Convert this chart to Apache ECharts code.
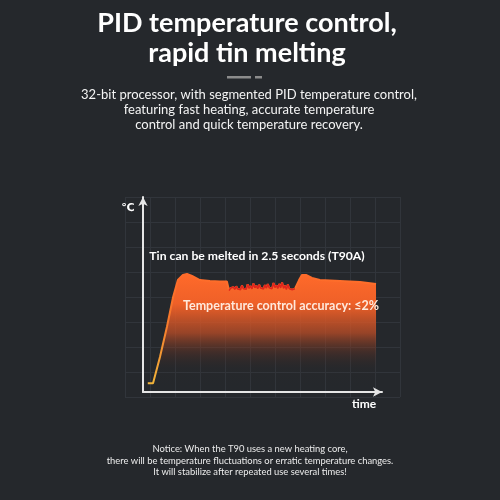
<!DOCTYPE html>
<html>
<head>
<meta charset="utf-8">
<script src="https://cdn.jsdelivr.net/npm/echarts@6/dist/echarts.min.js"></script>
<style>
html,body{margin:0;padding:0;background:#25282c;}
#c{width:500px;height:500px;}
</style>
</head>
<body>
<div id="c"></div>
<script>
// ---- data (time units 0..100, temperature units 0..100) ----
var riseTime = [2, 4.2, 7.1, 10, 12.6, 14.6, 16.7, 18.4, 20.5, 23.8, 28, 32.2, 35.1];
var riseTemp = [4.5, 4.5, 17.9, 33.3, 48.7, 57.4, 60, 60.5, 59.5, 57.4, 56.9, 56.7, 56.7];
var noiseTime = [36.0,36.6,37.2,37.8,38.4,39.0,39.6,40.2,40.8,41.4,42.0,42.6,43.2,43.8,44.4,45.0,45.6,46.2,46.8,47.4,48.0,48.6,49.2,49.8,50.4,51.0,51.6,52.2,52.8,53.4,54.0,54.6,55.2,55.8,56.4,57.0,57.6,58.2,58.8,59.4,60.0,60.6,61.2,61.8,62.4,63.0,63.6];
var noiseTemp = [52.0,53.2,52.4,53.8,52.6,54.2,52.8,53.6,52.5,54.6,53.0,54.0,52.7,55.2,53.1,54.3,52.9,55.6,53.4,54.5,53.0,55.0,53.3,54.1,52.8,54.8,53.2,55.3,53.5,54.4,53.0,55.9,53.6,54.7,53.1,55.4,53.4,56.2,53.2,54.6,52.6,55.1,52.9,53.9,52.5,53.5,53.0];
var recoverTime = [65.3, 66.5, 68.2, 70.7, 74, 82.4, 90.8, 97.5];
var recoverTemp = [57.4, 60, 60, 58.5, 57.4, 56.9, 56.4, 55.4];

var titleLines = ['PID temperature control,', 'rapid tin melting'];
var subtitleLines = ['32-bit processor, with segmented PID temperature control,', 'featuring fast heating, accurate temperature', 'control and quick temperature recovery.'];
var noticeLines = ['Notice: When the T90 uses a new heating core,', 'there will be temperature fluctuations or erratic temperature changes.', 'It will stabilize after repeated use several times!'];
var note1 = 'Tin can be melted in 2.5 seconds (T90A)';
var note2 = 'Temperature control accuracy: \u22642%';
var yName = '\u2103';
var xName = 'time';

function zip(a, b) { return a.map(function (v, i) { return [v, b[i]]; }); }
var curve = zip(riseTime, riseTemp).concat(zip(noiseTime, noiseTemp)).concat(zip(recoverTime, recoverTemp));
var noise = zip(noiseTime, noiseTemp);

var chart = echarts.init(document.getElementById('c'));
var graphics = [];
function addText(t, x, y, font, fill) {
  graphics.push({type: 'text', x: x, y: y, z: 10, style: {text: t, font: font, fill: fill, textAlign: 'center', textVerticalAlign: 'middle'}});
}
titleLines.forEach(function (t, i) { addText(t, 247, 23 + i * 30, 'bold 27px Lato', '#ffffff'); });
subtitleLines.forEach(function (t, i) { addText(t, 249, 95 + i * 15, '13px Lato', '#f4f4f4'); });
noticeLines.forEach(function (t, i) { addText(t, 250, 449 + i * 11.5, '9.4px Lato', '#ececec'); });
addText(note1, 257, 256, 'bold 12.2px Lato', '#ffffff');
addText(note2, 281, 306, 'bold 12.5px Lato', '#ffe9dc');
addText(yName, 128, 208, 'bold 11px "DejaVu Sans"', '#ffffff');
addText(xName, 364, 404, 'bold 12px Lato', '#ffffff');
graphics.push({type: 'rect', shape: {x: 227, y: 76, width: 24, height: 2.5}, style: {fill: '#8c8c8c'}});
graphics.push({type: 'rect', shape: {x: 255, y: 76, width: 7, height: 2.5}, style: {fill: '#8c8c8c'}});

var option = {
  backgroundColor: '#25282c',
  animation: false,
  graphic: graphics,
  grid: [
    {left: 143, top: 197, width: 239, height: 195},
    {left: 125, top: 197, width: 275, height: 200}
  ],
  xAxis: [
    {type: 'value', gridIndex: 0, min: 0, max: 100,
      axisLine: {show: true, symbol: ['none', 'arrow'], symbolSize: [7, 9], lineStyle: {color: '#e6e6e6', width: 2}},
      axisTick: {show: false}, axisLabel: {show: false}, splitLine: {show: false}},
    {type: 'value', gridIndex: 1, min: 0, max: 11, interval: 1,
      axisLine: {show: false}, axisTick: {show: false}, axisLabel: {show: false},
      splitLine: {show: true, lineStyle: {color: '#31353b', width: 1}}}
  ],
  yAxis: [
    {type: 'value', gridIndex: 0, min: 0, max: 100,
      axisLine: {show: true, symbol: ['none', 'arrow'], symbolSize: [7, 9], lineStyle: {color: '#e6e6e6', width: 2}},
      axisTick: {show: false}, axisLabel: {show: false}, splitLine: {show: false}},
    {type: 'value', gridIndex: 1, min: 0, max: 8, interval: 1,
      axisLine: {show: false}, axisTick: {show: false}, axisLabel: {show: false},
      splitLine: {show: true, lineStyle: {color: '#31353b', width: 1}}}
  ],
  series: [
    {type: 'line', xAxisIndex: 0, yAxisIndex: 0, data: curve, showSymbol: false, z: 3,
      lineStyle: {width: 2, color: new echarts.graphic.LinearGradient(0, 0, 0, 1, [
        {offset: 0, color: '#ff6a2a'}, {offset: 0.45, color: '#f57a2c'}, {offset: 1, color: '#f2b63a'}])},
      areaStyle: {opacity: 1, color: new echarts.graphic.LinearGradient(0, 0, 0, 1, [
        {offset: 0, color: 'rgba(255,106,42,1)'},
        {offset: 0.25, color: 'rgba(245,98,40,0.97)'},
        {offset: 0.5, color: 'rgba(200,80,38,0.7)'},
        {offset: 0.66, color: 'rgba(120,55,35,0.35)'},
        {offset: 0.8, color: 'rgba(60,40,35,0.08)'},
        {offset: 1, color: 'rgba(37,40,44,0)'}])}},
    {type: 'line', xAxisIndex: 0, yAxisIndex: 0, data: noise, showSymbol: false, z: 4,
      lineStyle: {width: 1.6, color: '#e0261c'}}
  ]
};
chart.setOption(option);
</script>
</body>
</html>
